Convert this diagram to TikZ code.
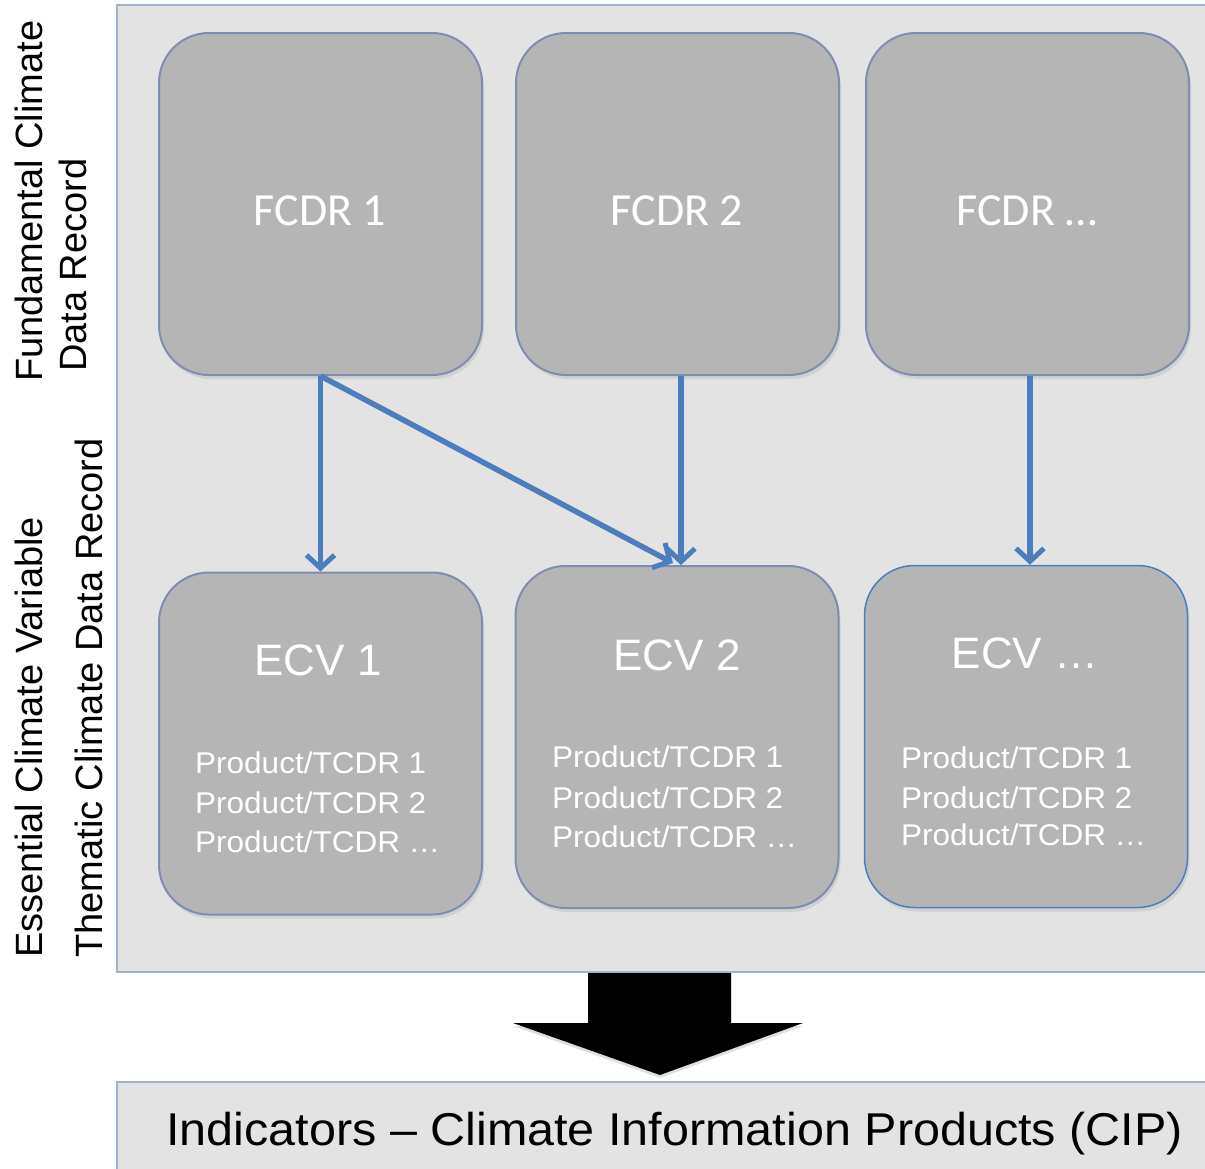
\documentclass[tikz,border=0pt]{standalone}
\usepackage{fontspec}
\setmainfont{Liberation Sans}
\newfontfamily\carl{Carlito}
\usetikzlibrary{arrows.meta,shadows}
\definecolor{panelfill}{RGB}{227,227,227}
\definecolor{panelline}{RGB}{160,178,206}
\definecolor{boxfill}{RGB}{181,181,181}
\definecolor{boxline}{RGB}{126,141,176}
\definecolor{arrowblue}{RGB}{76,126,190}
\tikzset{
  panel/.style={draw=panelline, fill=panelfill, line width=2pt, inner sep=0pt},
  recbox/.style={draw=boxline, fill=boxfill, line width=2pt, rounded corners=50pt,
     minimum width=323pt, minimum height=342pt, inner sep=0pt,
     drop shadow={opacity=0.18, shadow xshift=2pt, shadow yshift=-4pt}},
  bluebox/.style={recbox, draw=arrowblue, line width=1.5pt},
  ftitle/.style={text=white, font=\carl\fontsize{46}{52}\selectfont, anchor=base, inner sep=0pt},
  etitle/.style={text=white, font=\fontsize{44}{50}\selectfont, anchor=base, inner sep=0pt},
  prod/.style={text=white, font=\fontsize{30}{39}\selectfont, anchor=base west, inner sep=0pt, xscale=1.05},
  side/.style={font=\fontsize{38}{44}\selectfont, rotate=90, anchor=base west, inner sep=0pt},
  link/.style={draw=arrowblue, line width=5.5pt, -{Straight Barb[length=13pt, width=28pt, line width=5pt]}}
}
\begin{document}
\begin{tikzpicture}[x=1pt, y=-1pt]
\useasboundingbox[fill=white] (0,0) rectangle (1205,1168);
% main panel
\node[panel, minimum width=1110pt, minimum height=967pt] (main) at (672,488.5) {};
% bottom panel
\node[panel, minimum width=1110pt, minimum height=120pt] (cip) at (672,1142) {};
\node[font=\fontsize{46}{52}\selectfont, anchor=base west, inner sep=0pt, xscale=1.055] (ciptext) at (166,1145) {Indicators -- Climate Information Products (CIP)};
% FCDR boxes
\node[recbox] (f1) at (320.5,204) {};
\node[recbox] (f2) at (677.5,204) {};
\node[recbox] (f3) at (1027.5,204) {};
\node[ftitle] (f1t) at (320,225) {FCDR 1};
\node[ftitle] (f2t) at (677,225) {FCDR 2};
\node[ftitle] (f3t) at (1027,225) {FCDR \dots};
% ECV boxes
\node[recbox] (e1) at (320.5,743.5) {};
\node[recbox] (e2) at (677,737) {};
\node[bluebox] (e3) at (1026,736.5) {};
\node[etitle] (e1t) at (318,675) {ECV 1};
\node[etitle] (e2t) at (677,670) {ECV 2};
\node[etitle] (e3t) at (1025,668) {ECV \dots};
\node[prod] (e1p1) at (195,773) {Product/TCDR 1};
\node[prod] (e1p2) at (195,813) {Product/TCDR 2};
\node[prod] (e1p3) at (195,852) {Product/TCDR \dots};
\node[prod] (e2p1) at (552,767) {Product/TCDR 1};
\node[prod] (e2p2) at (552,808) {Product/TCDR 2};
\node[prod] (e2p3) at (552,847) {Product/TCDR \dots};
\node[prod] (e3p1) at (901,768) {Product/TCDR 1};
\node[prod] (e3p2) at (901,808) {Product/TCDR 2};
\node[prod] (e3p3) at (901,845) {Product/TCDR \dots};
% connectors
\coordinate (d2) at (673,563);
\draw[link] (f1.south) -- (e1.north);
\draw[link] (f1.south) -- (d2);
\draw[link] (f2.south -| 681,0) -- (e2.north -| 681,0);
\draw[link] (f3.south -| 1030,0) -- (e3.north -| 1030,0);
% big black arrow
\fill[black, drop shadow={opacity=0.25, shadow xshift=0pt, shadow yshift=-3pt}]
  (588,973) -- (731,973) -- (731,1023) -- (803,1023) -- (660,1075) -- (513,1023) -- (588,1023) -- cycle;
% side labels
\node[side] (lab1) at (42,382) {Fundamental Climate};
\node[side] (lab2) at (86,372) {Data Record};
\node[side] (lab3) at (42,958) {Essential Climate Variable};
\node[side] (lab4) at (102,958) {Thematic Climate Data Record};
\end{tikzpicture}
\end{document}
